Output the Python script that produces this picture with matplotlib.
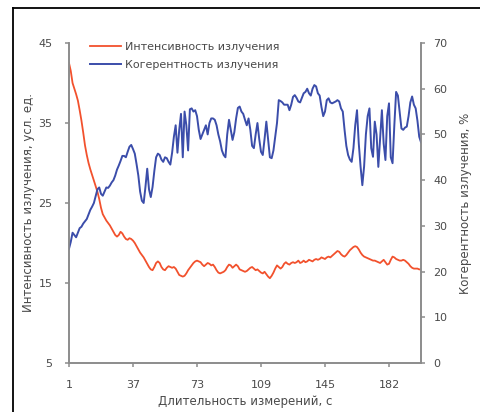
import numpy as np
import matplotlib
matplotlib.use('Agg')
import matplotlib.pyplot as plt
from matplotlib.lines import Line2D

# time, s
t = np.arange(1, 200)

# intensity, arb. units (left axis)
intensity = [42.5, 41.5, 40.0, 39.3, 38.6, 37.8, 36.6, 35.3, 33.8, 32.2,
             31.0, 30.0, 29.2, 28.5, 27.8, 27.1, 26.4, 25.5, 24.4, 23.6,
             23.2, 22.8, 22.5, 22.2, 21.8, 21.4, 21.0, 20.8, 21.0, 21.4,
             21.2, 20.8, 20.5, 20.4, 20.6, 20.5, 20.3, 20.0, 19.6, 19.2,
             18.8, 18.5, 18.2, 17.8, 17.4, 17.0, 16.7, 16.6, 17.0, 17.5,
             17.7, 17.5, 17.0, 16.7, 16.6, 16.9, 17.1, 17.0, 16.9, 17.0,
             16.8, 16.4, 16.0, 15.9, 15.8, 15.9, 16.2, 16.6, 16.9, 17.2,
             17.5, 17.7, 17.8, 17.7, 17.6, 17.3, 17.1, 17.3, 17.5, 17.4,
             17.2, 17.3, 17.0, 16.6, 16.3, 16.2, 16.3, 16.4, 16.6, 17.0,
             17.3, 17.2, 16.9, 17.1, 17.3, 17.1, 16.7, 16.6, 16.5, 16.4,
             16.5, 16.7, 16.9, 17.0, 16.8, 16.6, 16.7, 16.5, 16.3, 16.2,
             16.4, 16.1, 15.8, 15.6, 15.9, 16.3, 16.8, 17.2, 17.0, 16.8,
             17.0, 17.4, 17.6, 17.4, 17.3, 17.5, 17.6, 17.5, 17.6, 17.8,
             17.5, 17.6, 17.8, 17.6, 17.7, 17.9, 17.8, 17.7, 17.9, 18.0,
             17.9, 18.0, 18.2, 18.1, 18.0, 18.2, 18.3, 18.2, 18.4, 18.6,
             18.8, 19.0, 18.9, 18.6, 18.4, 18.3, 18.5, 18.8, 19.1, 19.3,
             19.5, 19.6, 19.5, 19.2, 18.8, 18.5, 18.3, 18.2, 18.1, 18.0,
             17.9, 17.8, 17.8, 17.7, 17.6, 17.5, 17.7, 17.9, 17.6, 17.3,
             17.4, 17.9, 18.3, 18.2, 18.0, 17.9, 17.8, 17.8, 17.9, 17.8,
             17.6, 17.4, 17.1, 16.9, 16.8, 16.8, 16.8, 16.7, 16.7]

# coherence, % (right axis)
coherence = [25.0, 26.5, 28.5, 28.0, 27.5, 28.5, 29.5, 29.8, 30.5, 31.0,
             31.5, 32.5, 33.5, 34.2, 35.0, 36.5, 38.0, 38.4, 37.0, 36.6,
             37.5, 38.4, 38.3, 38.8, 39.5, 40.0, 41.0, 42.3, 43.2, 44.2,
             45.3, 45.3, 45.0, 46.2, 47.3, 47.7, 46.8, 45.8, 43.5, 41.0,
             37.5, 35.5, 35.0, 38.5, 42.5, 38.0, 36.3, 38.5, 42.0, 45.0,
             45.8, 45.5, 44.5, 44.0, 45.0, 44.8, 44.0, 43.4, 46.0, 49.5,
             52.0, 46.0, 51.0, 54.5, 45.0, 55.0, 52.0, 46.5, 55.5, 55.7,
             55.0, 55.3, 54.0, 51.0, 49.0, 50.0, 51.0, 52.0, 50.0, 52.5,
             53.5, 53.5, 53.2, 52.0, 50.0, 48.5, 46.5, 45.5, 45.0, 50.0,
             53.2, 51.0, 48.8, 50.5, 53.5, 55.8, 56.1, 55.0, 54.5, 53.2,
             52.0, 53.5, 51.0, 47.5, 47.0, 50.0, 52.5, 49.0, 46.2, 45.5,
             49.0, 52.8, 49.0, 45.0, 44.8, 46.5, 49.5, 52.5, 57.5, 57.3,
             57.0, 56.5, 56.5, 56.5, 55.3, 56.5, 58.2, 58.6, 58.0, 57.2,
             57.0, 58.0, 59.0, 59.3, 60.0, 59.0, 58.5, 60.0, 60.8, 60.5,
             59.0, 58.5, 56.0, 54.0, 55.0, 57.5, 57.9, 57.0, 56.8, 57.0,
             57.2, 57.5, 57.2, 55.7, 55.0, 51.0, 47.5, 45.5, 44.5, 44.0,
             47.0, 52.0, 55.3, 48.0, 43.0, 38.9, 43.0, 50.0, 54.0, 55.7,
             47.0, 45.1, 52.8, 50.0, 42.9, 49.0, 55.3, 48.0, 44.4, 54.0,
             56.8, 45.0, 43.7, 52.0, 59.3, 58.5, 55.0, 51.3, 51.0, 51.5,
             51.7, 54.0, 57.0, 58.3, 56.5, 55.7, 53.0, 49.5, 48.3]

x_ticks = [1, 37, 73, 109, 145, 181]
x_labels = ['1', '37', '73', '109', '145', '182']

red = '#F2512D'
blue = '#3B4DAA'
axis_grey = '#8C8C8C'
text_col = '#4A4A4A'

plt.rcParams['font.family'] = ['DejaVu Sans']

fig = plt.figure(figsize=(4.81, 4.12), dpi=100)
ax = fig.add_axes([69/481, 1-363/412, (421-69)/481, (363-43)/412])
ax2 = ax.twinx()

l1, = ax.plot(t, intensity, color=red, lw=1.3, label='Интенсивность излучения')
l2, = ax2.plot(t, coherence, color=blue, lw=1.4, label='Когерентность излучения')

ax.set_xlim(1, 199)
ax.set_ylim(5, 45)
ax.set_yticks([5, 15, 25, 35, 45])
ax2.set_ylim(0, 70)
ax2.set_yticks(range(0, 71, 10))
ax.set_xticks(x_ticks)
ax.set_xticklabels(x_labels)

for a in (ax, ax2):
    a.spines['top'].set_visible(False)
    for s in ('left', 'right', 'bottom'):
        a.spines[s].set_color(axis_grey)
        a.spines[s].set_linewidth(1.2)
    a.tick_params(colors=axis_grey, labelcolor=text_col, labelsize=8,
                  length=3, width=1.1, direction='out')
ax.tick_params(axis='y', pad=9)
ax.tick_params(axis='x', pad=9)
ax2.tick_params(axis='y', pad=6)

ax.set_xlabel('Длительность измерений, с', fontsize=8.5, color=text_col, labelpad=4)
ax.set_ylabel('Интенсивность излучения, усл. ед.', fontsize=8.5, color=text_col, labelpad=2)
ax2.set_ylabel('Когерентность излучения, %', fontsize=8.5, color=text_col,
               rotation=90, labelpad=8)

leg = ax.legend(handles=[l1, l2], loc='upper left', bbox_to_anchor=(0.03, 1.035),
                frameon=False, fontsize=8, handlelength=2.8, handletextpad=0.4,
                labelspacing=0.7, labelcolor=text_col)

# outer frame (cropped box)
fig.add_artist(Line2D([13/481, 13/481], [0, 1-8/412], color='black', lw=1.3))
fig.add_artist(Line2D([13/481, 1], [1-8/412, 1-8/412], color='black', lw=1.3))

fig.savefig('out.png', dpi=100)
